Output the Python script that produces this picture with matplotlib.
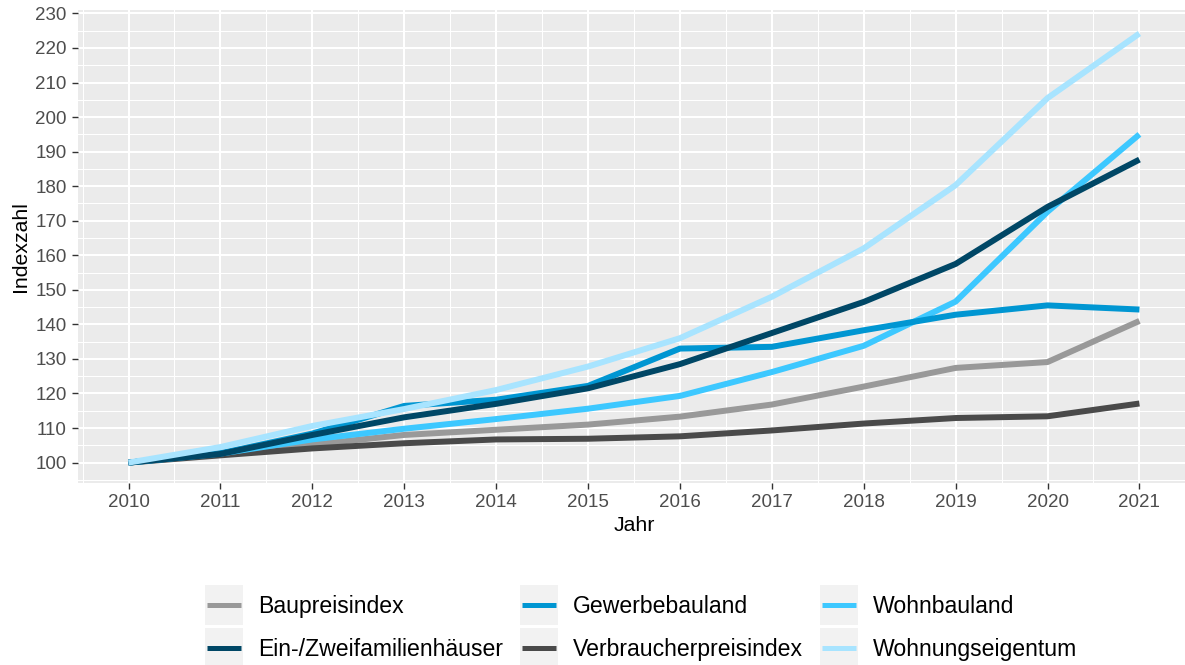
import numpy as np
import matplotlib
matplotlib.use("Agg")
import matplotlib.pyplot as plt
from matplotlib.legend_handler import HandlerBase
from matplotlib.patches import Rectangle
from matplotlib.lines import Line2D

jahre = list(range(2010, 2022))

baupreisindex = [100, 102.8, 105.2, 108.0, 109.5, 111.0, 113.3, 116.8, 122.0, 127.4, 129.1, 141.0]
ein_zwei = [100, 102.5, 108.0, 113.1, 117.0, 121.5, 128.5, 137.5, 146.5, 157.5, 174.0, 187.7]
gewerbebauland = [100, 102.7, 108.4, 116.4, 118.2, 122.2, 133.0, 133.5, 138.3, 142.8, 145.5, 144.3]
verbraucherpreisindex = [100, 102.1, 104.1, 105.6, 106.7, 106.9, 107.6, 109.3, 111.3, 112.9, 113.4, 117.1]
wohnbauland = [100, 102.6, 106.7, 109.8, 112.6, 115.6, 119.3, 126.2, 133.8, 146.6, 172.6, 195.0]
wohnungseigentum = [100, 104.5, 110.6, 115.5, 121.0, 127.8, 136.0, 148.0, 162.0, 180.3, 205.5, 224.2]

serien = {
    "Baupreisindex": (baupreisindex, "#999999"),
    "Ein-/Zweifamilienhäuser": (ein_zwei, "#004766"),
    "Gewerbebauland": (gewerbebauland, "#0096d2"),
    "Verbraucherpreisindex": (verbraucherpreisindex, "#4a4a4a"),
    "Wohnbauland": (wohnbauland, "#3dc8ff"),
    "Wohnungseigentum": (wohnungseigentum, "#a8e4ff"),
}
# Reihenfolge beim Zeichnen (unterste zuerst)
zeichen_reihenfolge = ["Baupreisindex", "Verbraucherpreisindex", "Wohnbauland",
                       "Gewerbebauland", "Ein-/Zweifamilienhäuser", "Wohnungseigentum"]


class KeyHandler(HandlerBase):
    # grauer Kasten wie bei ggplot, Linie darauf
    def create_artists(self, legend, orig_handle, xdescent, ydescent,
                       width, height, fontsize, trans):
        yc = -ydescent + height / 2
        hoehe = 28.8
        box = Rectangle((-xdescent, yc - hoehe / 2), width, hoehe,
                        facecolor="#f2f2f2", edgecolor="none", transform=trans)
        ln = Line2D([-xdescent + 0.05 * width, -xdescent + 0.95 * width], [yc, yc],
                    color=orig_handle.get_color(), lw=3.6,
                    solid_capstyle="butt", transform=trans)
        return [box, ln]


plt.rcParams['font.family'] = ['Liberation Sans', 'DejaVu Sans']

fig = plt.figure(figsize=(11.85, 6.65), dpi=100)
ax = fig.add_axes([0.0658, 0.2732, 0.9384, 0.7118])
ax.set_facecolor("#ebebeb")

linien = {}
for name in zeichen_reihenfolge:
    werte, farbe = serien[name]
    l, = ax.plot(jahre, werte, color=farbe, lw=4.3, solid_capstyle="butt",
                 solid_joinstyle="round", label=name, zorder=3)
    linien[name] = l

ax.set_xlim(2009.45, 2021.55)
ax.set_ylim(94.0, 231.0)
ax.set_xticks(jahre)
ax.set_xticks(np.arange(2009.5, 2022, 1), minor=True)
ax.set_yticks(np.arange(100, 231, 10))
ax.set_yticks(np.arange(95, 232, 5), minor=True)
ax.grid(which="major", color="white", lw=1.5, zorder=1)
ax.grid(which="minor", color="white", lw=0.75, zorder=1)
ax.set_axisbelow(True)
for s in ax.spines.values():
    s.set_visible(False)
ax.tick_params(which="major", length=4, width=1, color="#333333", labelsize=13.5,
               labelcolor="#4d4d4d", pad=4)
ax.tick_params(which="minor", length=0)
ax.set_xlabel("Jahr", fontsize=15.3, labelpad=3)
ax.set_ylabel("Indexzahl", fontsize=15.3, labelpad=4)

ordnung = ["Baupreisindex", "Ein-/Zweifamilienhäuser", "Gewerbebauland",
           "Verbraucherpreisindex", "Wohnbauland", "Wohnungseigentum"]
handles = [linien[n] for n in ordnung]
fig.legend(handles, ordnung, ncol=3, loc="center", bbox_to_anchor=(0.541, 0.0556),
           frameon=False, fontsize=16.6, handler_map={Line2D: KeyHandler()},
           handlelength=1.65, handletextpad=0.65, columnspacing=0.74,
           labelspacing=0.9, borderpad=0)

fig.savefig("out.png", dpi=100)
